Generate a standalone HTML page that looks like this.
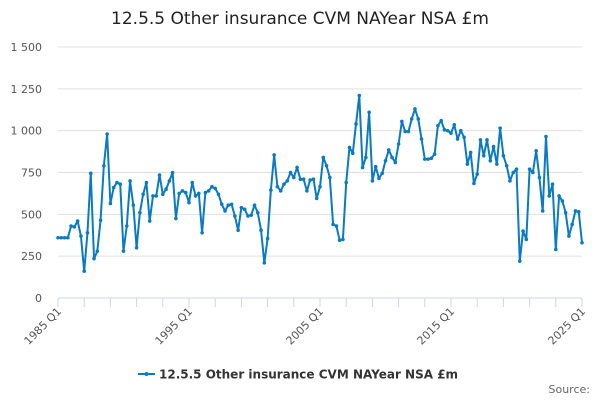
<!DOCTYPE html>
<html><head><meta charset="utf-8"><style>
body{margin:0;background:#fff;font-family:"Liberation Sans","DejaVu Sans",sans-serif}
svg text{font-family:"DejaVu Sans","Liberation Sans",sans-serif}
</style></head><body>
<svg id="chart" width="600" height="400">
<text x="300" y="24" text-anchor="middle" font-size="17" fill="#222">12.5.5 Other insurance CVM NAYear NSA £m</text>
<g id="grid"></g><g id="axes"></g><g id="series"></g>
<g>
<line x1="138" y1="374" x2="155" y2="374" stroke="#0a7bc1" stroke-width="2"/>
<circle cx="146.5" cy="374" r="2" fill="#0a7bc1"/>
<text x="159" y="378.5" font-size="12" font-weight="bold" fill="#333">12.5.5 Other insurance CVM NAYear NSA £m</text>
</g>
<text x="590" y="393" text-anchor="end" font-size="11" fill="#666">Source:</text>
</svg>
<script>
const yTicks=[0,250,500,750,1000,1250,1500];
const yTickLabels=["0","250","500","750","1 000","1 250","1 500"];
const xLabels=["1985 Q1","1995 Q1","2005 Q1","2015 Q1","2025 Q1"];
const startYear=1985;
const values=[360,360,360,360,430,425,460,370,160,390,745,235,280,465,790,980,565,660,690,680,280,430,700,555,300,510,620,690,460,610,610,735,620,650,700,750,475,625,640,630,570,690,610,625,390,630,640,665,655,620,560,520,555,560,490,405,540,530,490,495,555,510,405,210,355,645,855,665,640,680,700,750,720,780,710,710,640,705,710,595,665,840,790,720,440,430,345,350,690,900,865,1040,1210,780,840,1110,700,785,715,745,820,885,840,810,920,1055,995,995,1070,1130,1070,950,830,830,835,860,1030,1060,1005,1000,985,1035,950,1000,960,800,870,685,740,945,850,945,820,905,800,1015,850,790,700,750,770,220,400,350,770,750,880,720,520,965,610,680,290,610,580,510,370,440,520,515,330];
const NS="http://www.w3.org/2000/svg";
const x0=58,x1=582,y0=298,y1=47;
const xs=i=>x0+(x1-x0)*i/(values.length-1);
const ys=v=>y0-(y0-y1)*v/1500;
function mk(t,a,p){const e=document.createElementNS(NS,t);for(const k in a)e.setAttribute(k,a[k]);p.appendChild(e);return e;}
const grid=document.getElementById('grid'),axes=document.getElementById('axes'),ser=document.getElementById('series');
yTicks.forEach((v,i)=>{
 const l=mk('line',{x1:x0,x2:x1,y1:ys(v),y2:ys(v),stroke:v===0?'#ccd6eb':'#e0e0e0','stroke-width':1},grid);
 
 
 const t=mk('text',{x:42,y:ys(v)+4,'text-anchor':'end','font-size':11,fill:'#555'},axes);
 t.textContent=yTickLabels[i];
 
 
});
for(let q=0;q<values.length;q+=8){
 const tk=mk('line',{x1:xs(q),x2:xs(q),y1:y0,y2:y0+9,stroke:'#ccd6eb'},axes);
 
 
}
xLabels.forEach((s,i)=>{
 const q=i*40,x=xs(q)+4,y=y0+14;
 const t=mk('text',{x:x,y:y,'text-anchor':'end','font-size':11,fill:'#555',transform:`rotate(-45 ${x} ${y})`},axes);
 t.textContent=s;
 
 
});
const p=mk('polyline',{points:values.map((v,i)=>xs(i)+','+ys(v)).join(' '),fill:'none',stroke:'#0a7bc1','stroke-width':2,'stroke-linejoin':'round'},ser);


values.forEach((v,i)=>{
 const c=mk('circle',{cx:xs(i),cy:ys(v),r:1.8,fill:'#0a7bc1'},ser);
 
 
});
</script>
</body></html>
